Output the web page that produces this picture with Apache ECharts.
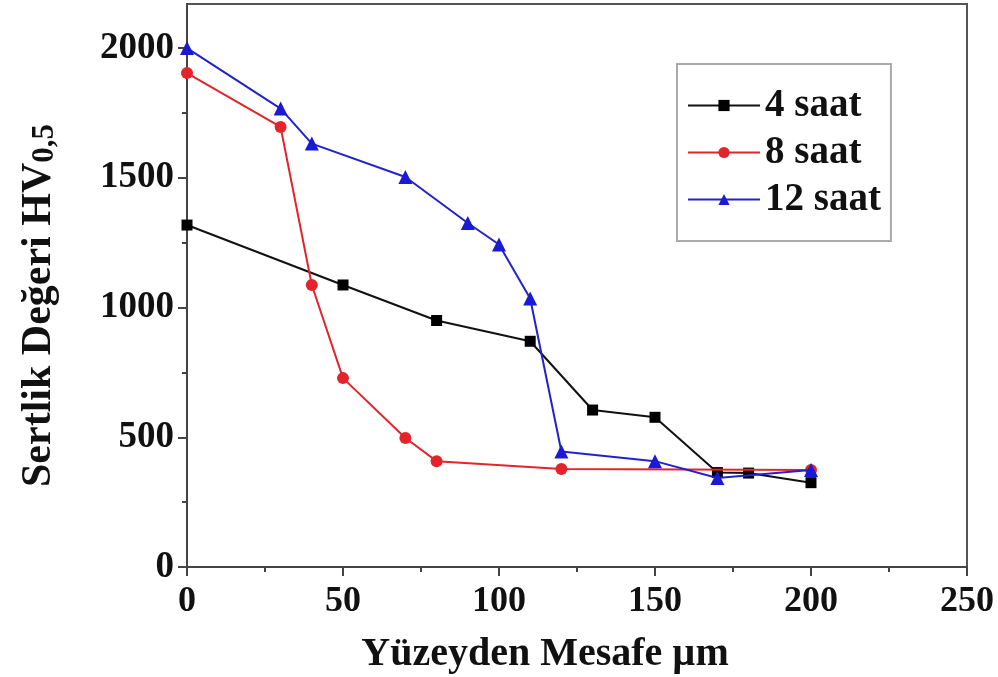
<!DOCTYPE html>
<html>
<head>
<meta charset="utf-8">
<script src="https://cdn.jsdelivr.net/npm/echarts@6/dist/echarts.min.js"></script>
<style>html,body{margin:0;padding:0;background:#fff}#c{width:998px;height:677px}</style>
</head>
<body>
<div id="c"></div>
<script>
const x4 = [0, 50, 80, 110, 130, 150, 170, 180, 200];
const y4 = [1318, 1087, 950, 870, 605, 577, 364, 362, 325];
const x8 = [0, 30, 40, 50, 70, 80, 120, 200];
const y8 = [1904, 1696, 1087, 728, 497, 408, 378, 374];
const x12 = [0, 30, 40, 70, 90, 100, 110, 120, 150, 170, 200];
const y12 = [2000, 1767, 1632, 1503, 1326, 1243, 1035, 445, 408, 343, 374];
const seriesNames = ['4 saat', '8 saat', '12 saat'];
const xTicks = [0, 50, 100, 150, 200, 250];
const yTicks = [0, 500, 1000, 1500, 2000];

const serif = '"Liberation Serif", "DejaVu Serif", serif';
const pair = (xs, ys) => xs.map((v, i) => [v, ys[i]]);

const chart = echarts.init(document.getElementById('c'), null, {renderer: 'canvas'});
chart.setOption({
  backgroundColor: '#fff',
  animation: false,
  grid: {left: 187, right: 31, top: 4, bottom: 110, show: true, borderColor: '#555', borderWidth: 2,
    backgroundColor: 'transparent', containLabel: false, outerBoundsMode: 'none'},
  legend: {
    orient: 'vertical', left: 677, top: 64,
    backgroundColor: '#fff', borderColor: '#aaa', borderWidth: 2,
    padding: [22, 10, 22, 10], itemGap: 8, itemWidth: 72, itemHeight: 14,
    textStyle: {fontFamily: serif, fontWeight: 'bold', fontSize: 39, color: '#111'},
    data: seriesNames
  },
  xAxis: {
    type: 'value', min: 0, max: 250, interval: 50,
    axisLine: {lineStyle: {color: '#444', width: 2}},
    axisTick: {length: 9, lineStyle: {color: '#444', width: 2}},
    minorTick: {show: true, splitNumber: 2, length: 5, lineStyle: {color: '#444', width: 2}},
    splitLine: {show: false},
    axisLabel: {fontFamily: serif, fontWeight: 'bold', fontSize: 36, color: '#111', margin: 17,
      customValues: xTicks, formatter: v => String(v)},
    name: 'Yüzeyden Mesafe µm', nameLocation: 'middle', nameGap: 68,
    nameTextStyle: {fontFamily: serif, fontWeight: 'bold', fontSize: 40, color: '#111', padding: [0, 64, 0, 0]}
  },
  yAxis: {
    type: 'value', min: 0, max: 2170, interval: 500,
    axisLine: {lineStyle: {color: '#444', width: 2}},
    axisTick: {length: 9, lineStyle: {color: '#444', width: 2}, customValues: yTicks},
    minorTick: {show: true, splitNumber: 2, length: 5, lineStyle: {color: '#444', width: 2}},
    splitLine: {show: false},
    axisLabel: {fontFamily: serif, fontWeight: 'bold', fontSize: 37, color: '#111', margin: 13,
      customValues: yTicks, formatter: v => String(v)},
    name: '{m|Sertlik Değeri HV}{s|0,5}', nameLocation: 'middle', nameGap: 127, nameRotate: 90,
    nameTextStyle: {
      padding: [0, 40, 0, 0],
      rich: {
        m: {fontFamily: serif, fontWeight: 'bold', fontSize: 42, color: '#111'},
        s: {fontFamily: serif, fontWeight: 'bold', fontSize: 31, color: '#111', verticalAlign: 'bottom'}
      }
    }
  },
  series: [
    {name: seriesNames[0], type: 'line', data: pair(x4, y4), symbol: 'rect', symbolSize: 11,
      lineStyle: {color: '#111', width: 2}, itemStyle: {color: '#000'}, z: 2},
    {name: seriesNames[1], type: 'line', data: pair(x8, y8), symbol: 'circle', symbolSize: 12,
      lineStyle: {color: '#e3242b', width: 2}, itemStyle: {color: '#e3242b'}, z: 3},
    {name: seriesNames[2], type: 'line', data: pair(x12, y12), symbol: 'triangle', symbolSize: 14,
      lineStyle: {color: '#2222cc', width: 2}, itemStyle: {color: '#1a1ad6'}, z: 4}
  ]
});
</script>
</body>
</html>
